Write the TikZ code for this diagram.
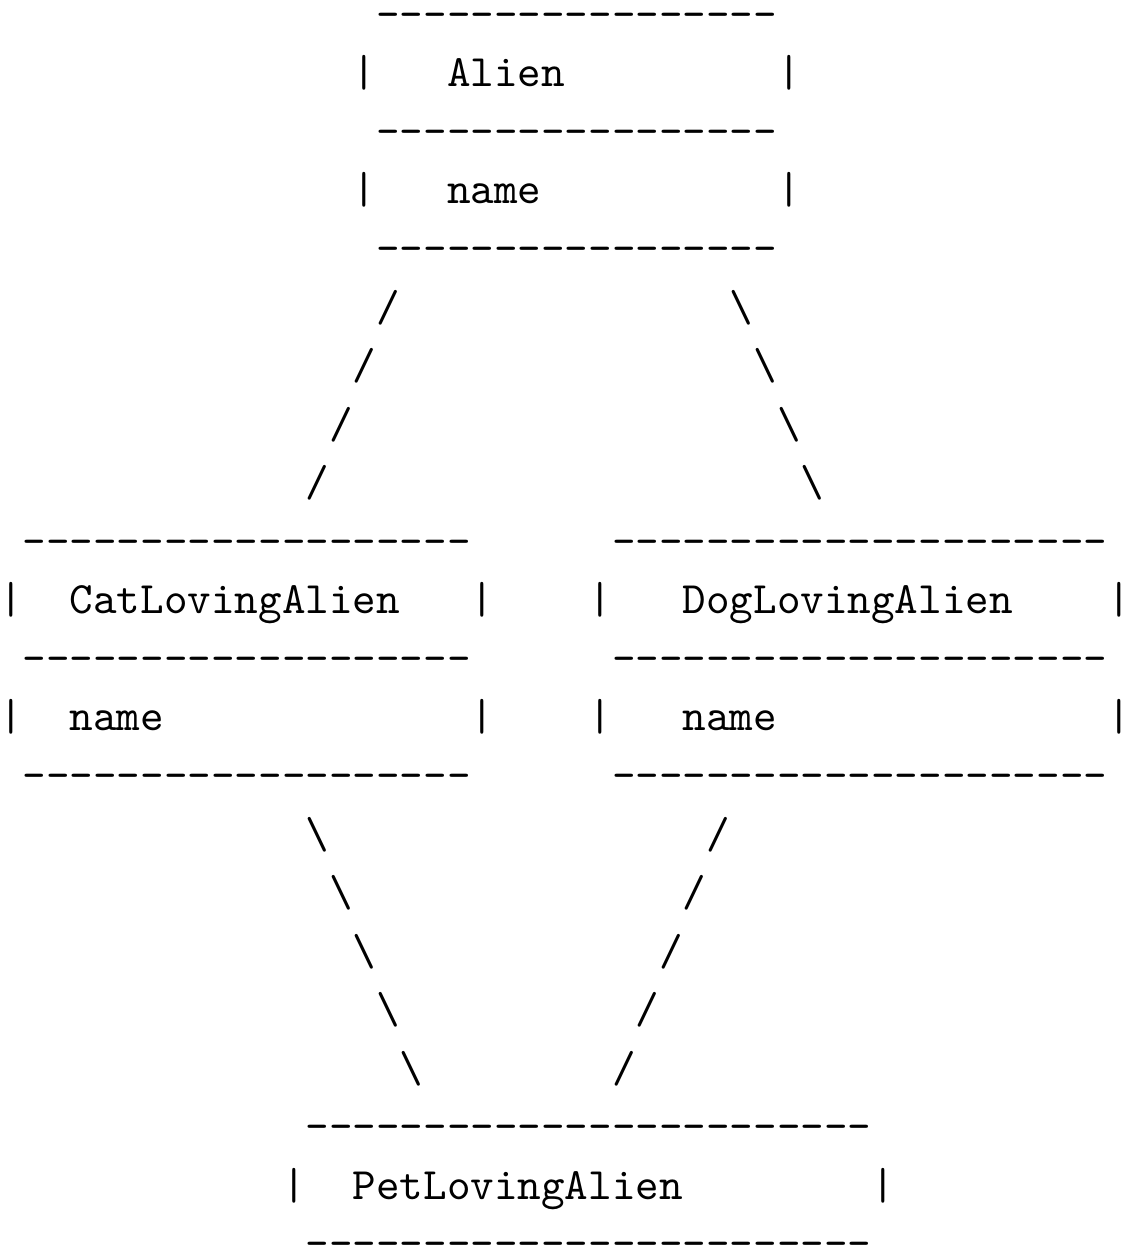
\documentclass[tikz,border=0pt]{standalone}

% one row of '-' glyphs, one node per column
\newcommand{\dashline}[4]{%
  \foreach \c in {#2,...,#3} {
    \node[ascii] (#1-\c) at (\c,#4) {-};
  }%
}

\begin{document}
\begin{tikzpicture}[
    x=5.25pt, y=-13.04pt,
    ascii/.style={font=\ttfamily, inner sep=0pt, anchor=base west}
  ]
  \useasboundingbox (0,0) rectangle (251pt,-277.7pt);
  \begin{scope}[shift={(-0.398pt,-6.3pt)}]
    % Alien
    \dashline{atop}{16}{32}{0}
    \node[ascii] (alienl) at (15,1) {|};
    \node[ascii] (alien) at (19,1) {Alien};
    \node[ascii] (alienr) at (33,1) {|};
    \dashline{amid}{16}{32}{2}
    \node[ascii] (anamel) at (15,3) {|};
    \node[ascii] (aname) at (19,3) {name};
    \node[ascii] (anamer) at (33,3) {|};
    \dashline{abot}{16}{32}{4}
    % upper links
    \foreach \i in {0,...,3} {
      \node[ascii] (ul\i) at (16-\i,5+\i) {/};
      \node[ascii] (ur\i) at (31+\i,5+\i) {\textbackslash};
    }
    % CatLovingAlien
    \dashline{ctop}{1}{19}{9}
    \node[ascii] (catl) at (0,10) {|};
    \node[ascii] (cat) at (3,10) {CatLovingAlien};
    \node[ascii] (catr) at (20,10) {|};
    \dashline{cmid}{1}{19}{11}
    \node[ascii] (cnamel) at (0,12) {|};
    \node[ascii] (cname) at (3,12) {name};
    \node[ascii] (cnamer) at (20,12) {|};
    \dashline{cbot}{1}{19}{13}
    % DogLovingAlien
    \dashline{dtop}{26}{46}{9}
    \node[ascii] (dogl) at (25,10) {|};
    \node[ascii] (dog) at (29,10) {DogLovingAlien};
    \node[ascii] (dogr) at (47,10) {|};
    \dashline{dmid}{26}{46}{11}
    \node[ascii] (dnamel) at (25,12) {|};
    \node[ascii] (dname) at (29,12) {name};
    \node[ascii] (dnamer) at (47,12) {|};
    \dashline{dbot}{26}{46}{13}
    % lower links
    \foreach \i in {0,...,4} {
      \node[ascii] (ll\i) at (13+\i,14+\i) {\textbackslash};
      \node[ascii] (lr\i) at (30-\i,14+\i) {/};
    }
    % PetLovingAlien
    \dashline{ptop}{13}{36}{19}
    \node[ascii] (petl) at (12,20) {|};
    \node[ascii] (pet) at (15,20) {PetLovingAlien};
    \node[ascii] (petr) at (37,20) {|};
    \dashline{pbot}{13}{36}{21}
  \end{scope}
\end{tikzpicture}
\end{document}
